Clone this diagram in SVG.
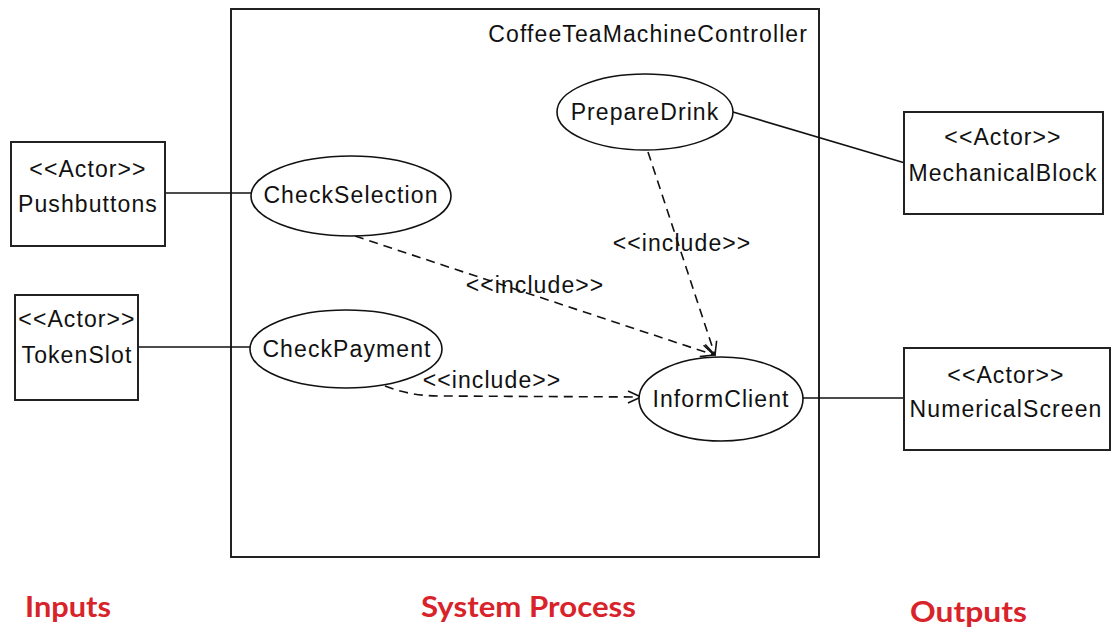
<svg xmlns="http://www.w3.org/2000/svg" width="1111" height="630" viewBox="0 0 1111 630">
<style>
.t{font-family:"Liberation Sans",Arial,sans-serif;font-size:23px;letter-spacing:1.1px;fill:#111;text-anchor:middle}
.box{fill:#fff;stroke:#222;stroke-width:2}
.uc{fill:#fff;stroke:#111;stroke-width:1.6}
.ln{stroke:#111;stroke-width:1.6;fill:none}
.dash{stroke:#111;stroke-width:1.6;fill:none;stroke-dasharray:9 6}
.red{font-family:Lato,"Open Sans",sans-serif;font-weight:bold;font-size:28px;fill:#d8232a}
</style>
<defs>
<marker id="open" markerUnits="userSpaceOnUse" markerWidth="16" markerHeight="14" refX="14" refY="7" orient="auto">
<path d="M1,1 L14,7 L1,13" fill="none" stroke="#111" stroke-width="1.6"/>
</marker>
</defs>
<rect width="1111" height="630" fill="#fff"/>
<g id="system">
<rect x="231" y="9" width="588" height="548" class="box"/>
<text x="808" y="42" class="t" style="text-anchor:end">CoffeeTeaMachineController</text>
</g>
<g id="connectors">
<line x1="165" y1="193" x2="251" y2="193" class="ln"/>
<line x1="138" y1="347" x2="251" y2="347" class="ln"/>
<line x1="733" y1="112" x2="905" y2="163" class="ln"/>
<line x1="803" y1="398" x2="905" y2="398" class="ln"/>
<line x1="355" y1="236" x2="714" y2="355" class="dash" marker-end="url(#open)"/>
<line x1="648" y1="152" x2="715" y2="355" class="dash" marker-end="url(#open)"/>
<path d="M385,386 Q410,396 440,396 L641,397" class="dash" marker-end="url(#open)"/>
<text x="535" y="293" class="t">&lt;&lt;include&gt;&gt;</text>
<text x="682" y="251" class="t">&lt;&lt;include&gt;&gt;</text>
<text x="492" y="388" class="t">&lt;&lt;include&gt;&gt;</text>
</g>
<g id="pushbuttons">
<rect x="11" y="142" width="154" height="104" class="box"/>
<text x="88" y="177" class="t">&lt;&lt;Actor&gt;&gt;</text>
<text x="88" y="212" class="t">Pushbuttons</text>
</g>
<g id="tokenslot">
<rect x="15" y="295" width="123" height="105" class="box"/>
<text x="77" y="327" class="t">&lt;&lt;Actor&gt;&gt;</text>
<text x="77" y="363" class="t">TokenSlot</text>
</g>
<g id="checkselection">
<ellipse cx="351" cy="196" rx="100" ry="40" class="uc"/>
<text x="351" y="203" class="t">CheckSelection</text>
</g>
<g id="checkpayment">
<ellipse cx="346" cy="349" rx="96" ry="39" class="uc"/>
<text x="347" y="357" class="t">CheckPayment</text>
</g>
<g id="preparedrink">
<ellipse cx="645" cy="112" rx="88" ry="38" class="uc"/>
<text x="645" y="120" class="t">PrepareDrink</text>
</g>
<g id="informclient">
<ellipse cx="721" cy="399" rx="82" ry="42" class="uc"/>
<text x="721" y="407" class="t">InformClient</text>
</g>
<g id="mechanicalblock">
<rect x="904" y="112" width="199" height="102" class="box"/>
<text x="1003" y="145" class="t">&lt;&lt;Actor&gt;&gt;</text>
<text x="1003" y="181" class="t">MechanicalBlock</text>
</g>
<g id="numericalscreen">
<rect x="904" y="348" width="206" height="102" class="box"/>
<text x="1006" y="383" class="t">&lt;&lt;Actor&gt;&gt;</text>
<text x="1006" y="417" class="t">NumericalScreen</text>
</g>
<g id="labels">
<text x="25" y="617" class="red" textLength="86" lengthAdjust="spacingAndGlyphs">Inputs</text>
<text x="421" y="617" class="red" textLength="215" lengthAdjust="spacingAndGlyphs">System Process</text>
<text x="910" y="622" class="red" textLength="117" lengthAdjust="spacingAndGlyphs">Outputs</text>
</g>
</svg>
